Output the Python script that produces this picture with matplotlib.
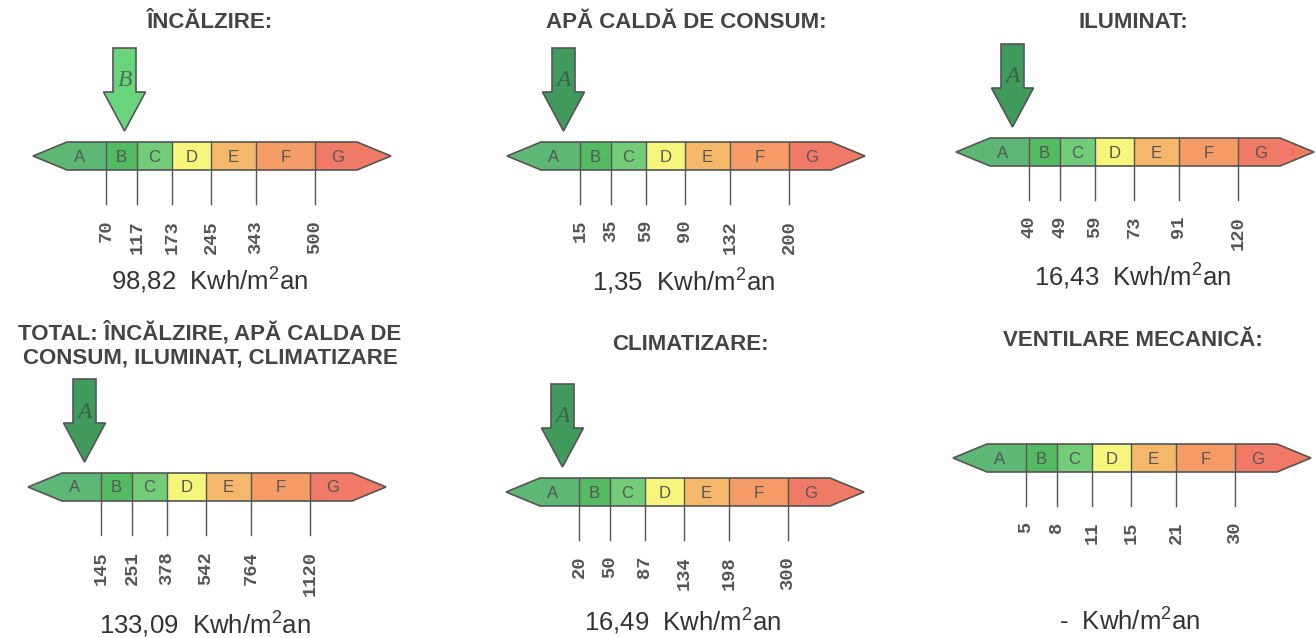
import numpy as np
import matplotlib
matplotlib.use('Agg')
from matplotlib import pyplot as plt
from matplotlib.patches import Polygon, Rectangle

plt.rcParams['mathtext.fontset'] = 'custom'
plt.rcParams['mathtext.rm'] = 'Liberation Sans'

# chart content
titles = ['ÎNCĂLZIRE:', 'APĂ CALDĂ DE CONSUM:', 'ILUMINAT:',
          'TOTAL: ÎNCĂLZIRE, APĂ CALDA DE\nCONSUM, ILUMINAT, CLIMATIZARE',
          'CLIMATIZARE:', 'VENTILARE MECANICĂ:']
limits = [[70, 117, 173, 245, 343, 500],
          [15, 35, 59, 90, 132, 200],
          [40, 49, 59, 73, 91, 120],
          [145, 251, 378, 542, 764, 1120],
          [20, 50, 87, 134, 198, 300],
          [5, 8, 11, 15, 21, 30]]
values = ['98,82', '1,35', '16,43', '133,09', '16,49', '-']
classes = ['B', 'A', 'A', 'A', 'A', None]
letters = ['A', 'B', 'C', 'D', 'E', 'F', 'G']

# layout (pixels): bar left tip, bar top, title pos, value text y
bar_x = [33, 507, 956, 28, 506, 953]
bar_y = [142, 142, 138, 473, 478, 444]
title_pos = [(210, 22), (686, 22), (1133, 22), (210, 345), (690, 344), (1133, 340)]
value_y = [280, 281, 276, 624, 621, 621]

edges = [0, 73, 104, 139, 178, 223, 282, 358]   # segment edges along the bar
taper = 34
bar_h = 28
seg_colors = ['#5cb874', '#55bb62', '#72cc78', '#f6f57c', '#f5b86a', '#f59b66', '#f07a66']
arrow_colors = {'A': '#3f9a5c', 'B': '#68d47c'}
ink = '#444444'

fig = plt.figure(figsize=(13.16, 6.38), dpi=100)
ax = fig.add_axes([0, 0, 1, 1])
ax.set_xlim(0, 1316)
ax.set_ylim(638, 0)
ax.axis('off')


def draw_panel(i):
    x0, y0 = bar_x[i], bar_y[i]
    L = edges[-1]
    mid = y0 + bar_h / 2
    hexa = Polygon([(x0, mid), (x0 + taper, y0), (x0 + L - taper, y0),
                    (x0 + L, mid), (x0 + L - taper, y0 + bar_h),
                    (x0 + taper, y0 + bar_h)], closed=True,
                   facecolor='none', edgecolor='#555555', lw=1.2, zorder=3)
    ax.add_patch(hexa)

    # coloured segments clipped to the arrow-shaped band
    for k in range(7):
        r = Rectangle((x0 + edges[k], y0), edges[k + 1] - edges[k], bar_h,
                      facecolor=seg_colors[k], edgecolor='none', zorder=2)
        ax.add_patch(r)
        r.set_clip_path(hexa)
        lx = (max(edges[k], 20) + min(edges[k + 1], 328)) / 2
        ax.text(x0 + lx, mid + 1, letters[k], ha='center', va='center',
                fontsize=12, color='#555555', family='Liberation Sans', zorder=4)

    # class limits below the band
    for k, lim in enumerate(limits[i]):
        ex = x0 + edges[k + 1]
        ax.plot([ex, ex], [y0, y0 + bar_h + 34], color='#555555', lw=1, zorder=3)
        ax.text(ex, y0 + bar_h + 50, str(lim), rotation=90, ha='center', va='top',
                fontsize=13.5, fontweight='bold', color='#555555',
                family='Liberation Mono')

    tx, ty = title_pos[i]
    ax.text(tx, ty, titles[i], ha='center', va='center', fontsize=16,
            fontweight='bold', color=ink, family='Liberation Sans',
            linespacing=1.2)

    ax.text(x0 + L / 2 - 2, value_y[i], values[i] + r'  Kwh/m$^{2}$an', ha='center',
            va='center', fontsize=18.5, color='#333333', family='Liberation Sans')

    # class arrow
    c = classes[i]
    if c is not None:
        k = letters.index(c)
        ax_x = x0 + (max(edges[k], taper) + edges[k + 1]) / 2 + 3
        tip = y0 - 11
        top = y0 - 94
        head = tip - 39
        arrow = Polygon([(ax_x - 11.5, top), (ax_x + 11.5, top), (ax_x + 11.5, head),
                         (ax_x + 21, head), (ax_x, tip), (ax_x - 21, head),
                         (ax_x - 11.5, head)], closed=True,
                        facecolor=arrow_colors[c], edgecolor='#555555', lw=1.2,
                        zorder=3)
        ax.add_patch(arrow)
        ax.text(ax_x, top + 33, c, ha='center', va='center', fontsize=17,
                style='italic', color='#3a4a3e', family='Liberation Serif',
                alpha=0.7, zorder=4)


for i in range(6):
    draw_panel(i)

fig.savefig('out.png', dpi=100, facecolor='white')
